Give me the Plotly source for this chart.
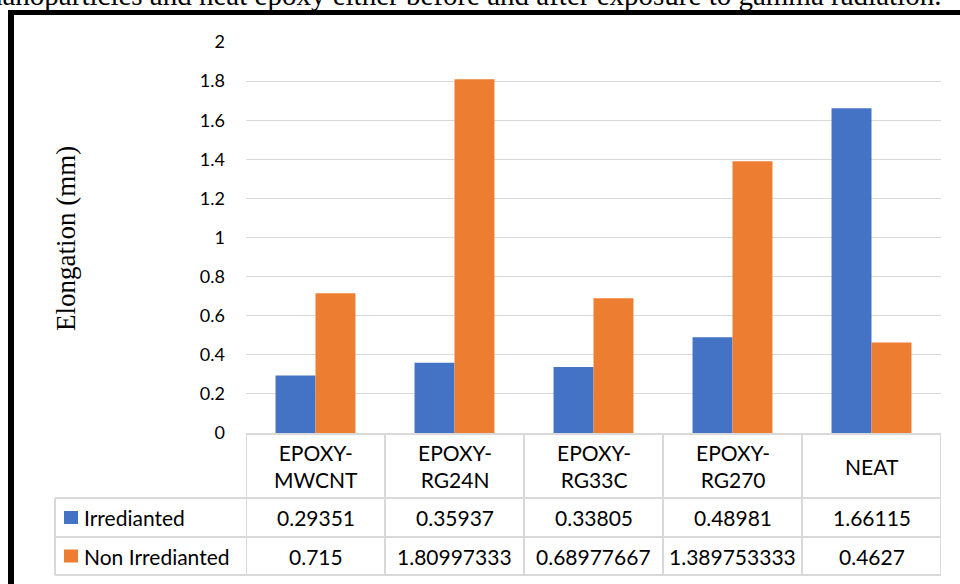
import plotly.graph_objects as go

# Elongation data for each sample
categories = ["EPOXY-MWCNT", "EPOXY-RG24N", "EPOXY-RG33C", "EPOXY-RG270", "NEAT"]
header_labels = ["EPOXY-<br>MWCNT", "EPOXY-<br>RG24N", "EPOXY-<br>RG33C", "EPOXY-<br>RG270", "NEAT"]
series_names = ["Irredianted", "Non Irredianted"]
irradiated = [0.29351, 0.35937, 0.33805, 0.48981, 1.66115]
non_irradiated = [0.715, 1.80997333, 0.68977667, 1.389753333, 0.4627]
irradiated_text = ["0.29351", "0.35937", "0.33805", "0.48981", "1.66115"]
non_irradiated_text = ["0.715", "1.80997333", "0.68977667", "1.389753333", "0.4627"]
y_ticks = [0, 0.2, 0.4, 0.6, 0.8, 1, 1.2, 1.4, 1.6, 1.8, 2]
y_tick_text = ["0", "0.2", "0.4", "0.6", "0.8", "1", "1.2", "1.4", "1.6", "1.8", "2"]

colors = ["#4472C4", "#ED7D31"]
grid = "#d9d9d9"
W, H = 960, 584
L, R, T, B = 246, 941, 42, 433  # plot area in pixels


def px(x):
    return (x - L) / (R - L)


def py(y):
    return (B - y) / (B - T)


fig = go.Figure()
for name, vals, col in zip(series_names, [irradiated, non_irradiated], colors):
    fig.add_trace(go.Bar(x=list(range(len(categories))), y=vals, name=name,
                         marker=dict(color=col, line=dict(width=0)),
                         showlegend=False, hoverinfo="x+y"))

shapes = []
annotations = []
line = dict(color=grid, width=2)

# data table grid below the plot
row_lines = [498, 537, 575]
for yy in row_lines:
    shapes.append(dict(type="line", xref="paper", yref="paper",
                       x0=px(55), x1=1, y0=py(yy), y1=py(yy), line=line))
shapes.append(dict(type="line", xref="paper", yref="paper",
                   x0=px(55), x1=px(55), y0=py(498), y1=py(575), line=line))
for i in range(len(categories) + 1):
    shapes.append(dict(type="line", xref="x", yref="paper",
                       x0=i - 0.5, x1=i - 0.5, y0=0, y1=py(575), line=line))

table_font = dict(family="Lato, 'Open Sans', sans-serif", size=21, color="#000000")
for i, lab in enumerate(header_labels):
    annotations.append(dict(x=i, y=py(466), xref="x", yref="paper", text=lab,
                            showarrow=False, font=table_font, align="center",
                            xanchor="center", yanchor="middle"))
row_centers = [517.5, 556]
for r, (vals_t, col, name) in enumerate(zip([irradiated_text, non_irradiated_text], colors, series_names)):
    yc = row_centers[r]
    for i, t in enumerate(vals_t):
        annotations.append(dict(x=i, y=py(yc), xref="x", yref="paper", text=t,
                                showarrow=False, font=table_font,
                                xanchor="center", yanchor="middle"))
    shapes.append(dict(type="rect", xref="paper", yref="paper",
                       x0=px(64), x1=px(78), y0=py(yc - 6.5), y1=py(yc + 6.5),
                       fillcolor=col, line=dict(width=0)))
    annotations.append(dict(x=px(82), y=py(yc), xref="paper", yref="paper", text=name,
                            showarrow=False, font=table_font,
                            xanchor="left", yanchor="middle"))

# outer frame
shapes.append(dict(type="line", xref="paper", yref="paper", x0=px(11), x1=px(962),
                   y0=py(12.5), y1=py(12.5), line=dict(color="black", width=5)))
shapes.append(dict(type="line", xref="paper", yref="paper", x0=px(11), x1=px(11),
                   y0=py(10), y1=py(590), line=dict(color="black", width=6)))

# caption text above the frame
annotations.append(dict(x=px(943), y=py(13.5), xref="paper", yref="paper",
                        text="nanoparticles and neat epoxy either before and after exposure to gamma radiation.",
                        showarrow=False, xanchor="right", yanchor="bottom",
                        font=dict(family="Liberation Serif, Times New Roman, serif", size=29, color="black")))

# y-axis title
annotations.append(dict(x=px(66), y=py(239), xref="paper", yref="paper",
                        text="Elongation (mm)", textangle=-90, showarrow=False,
                        xanchor="center", yanchor="middle",
                        font=dict(family="Liberation Serif, Times New Roman, serif", size=27, color="black")))

fig.update_layout(
    width=W, height=H,
    margin=dict(l=L, r=W - R, t=T, b=H - B, pad=0),
    paper_bgcolor="white", plot_bgcolor="white",
    barmode="group", bargap=0.425, bargroupgap=0,
    shapes=shapes, annotations=annotations,
    xaxis=dict(range=[-0.5, len(categories) - 0.5], showticklabels=False,
               showgrid=False, zeroline=False, showline=True, linecolor=grid,
               linewidth=2, ticks=""),
    yaxis=dict(range=[0, 2], tickvals=y_ticks, ticktext=y_tick_text,
               showgrid=True, gridcolor=grid, gridwidth=1, zeroline=False,
               showline=False, ticks="", ticklabelstandoff=20,
               tickfont=dict(family="Lato, 'Open Sans', sans-serif", size=18, color="#000000")),
)

fig.write_html("out.html")
